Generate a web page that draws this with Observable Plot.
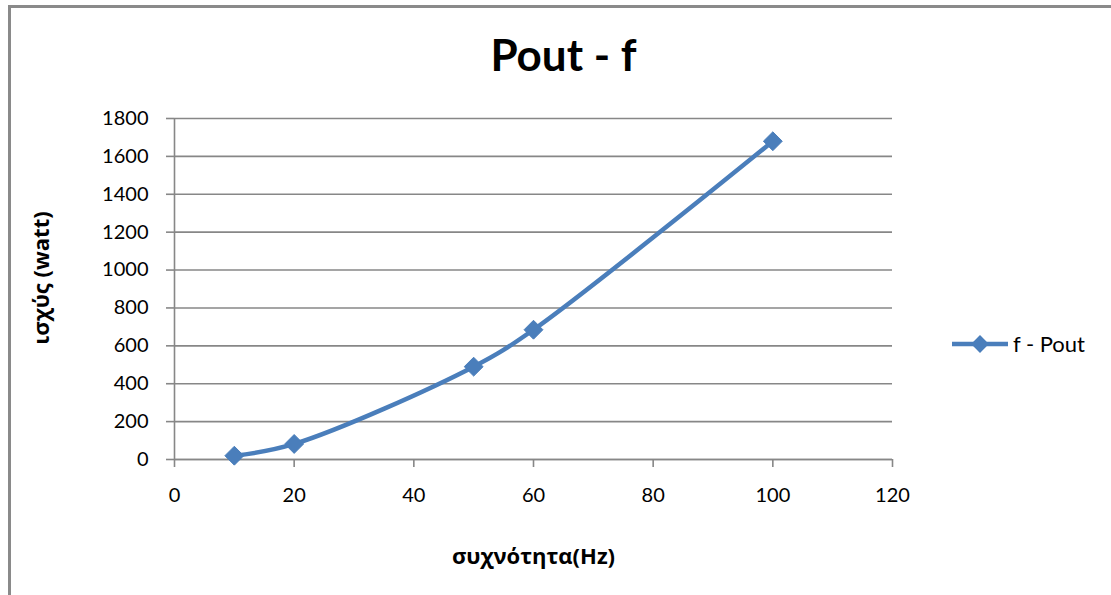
<!DOCTYPE html>
<html>
<head>
<meta charset="utf-8">
<script src="https://cdn.jsdelivr.net/npm/d3@7"></script>
<script src="https://cdn.jsdelivr.net/npm/@observablehq/plot@0.6"></script>
<style>
  body { margin: 0; background: #fff; }
  #wrap { position: relative; width: 1111px; height: 595px; overflow: hidden; font-family: Lato, "Open Sans", sans-serif; }
  #frame { position: absolute; left: 8px; top: 5px; width: 1200px; height: 700px; border: 3px solid #8a8a8a; box-sizing: border-box; }
  #chart { position: absolute; left: 0; top: 0; }
  #legend { position: absolute; left: 951px; top: 330px; display: flex; align-items: center; font-size: 22px; color: #000; }
  #legend svg { margin-right: 4px; }
</style>
</head>
<body>
<div id="wrap">
  <div id="frame"></div>
  <div id="chart"></div>
  <div id="legend"></div>
</div>
<script>
// frequency (Hz) and output power (watt)
const frequency = [10, 20, 50, 60, 100];
const power = [20, 82, 490, 685, 1680];
const seriesName = "f - Pout";
const titleText = "Pout - f";
const xLabel = "συχνότητα(Hz)";
const yLabel = "ισχύς (watt)";
const xTicks = [0, 20, 40, 60, 80, 100, 120];
const yTicks = [0, 200, 400, 600, 800, 1000, 1200, 1400, 1600, 1800];

const blue = "#4a7ebb";
const gray = "#878787";
const greekFont = "'Open Sans', 'Noto Sans', sans-serif";
const data = frequency.map((f, i) => ({f, p: power[i]}));

const chart = Plot.plot({
  width: 1111,
  height: 595,
  marginLeft: 174,
  marginRight: 219,
  marginTop: 118,
  marginBottom: 136,
  style: {fontFamily: "Lato, 'Open Sans', sans-serif", fontSize: "20px", color: "#000", background: "transparent", overflow: "visible"},
  x: {domain: [0, 120], ticks: xTicks},
  y: {domain: [0, 1800], ticks: yTicks},
  marks: [
    Plot.gridY(yTicks, {stroke: gray, strokeOpacity: 1, strokeWidth: 1.6}),
    Plot.ruleX([0], {stroke: gray, strokeWidth: 1.6}),
    Plot.ruleY([0], {stroke: gray, strokeWidth: 1.6}),
    Plot.axisY(yTicks, {tickSize: 8, tickPadding: 18, stroke: gray, strokeWidth: 1.6, label: null, fill: "#000", tickFormat: d => String(d)}),
    Plot.axisX(xTicks, {tickSize: 8, tickPadding: 20, stroke: gray, strokeWidth: 1.6, label: null, fill: "#000", tickFormat: d => String(d)}),
    Plot.line(data, {x: "f", y: "p", stroke: blue, strokeWidth: 4.5, curve: "catmull-rom"}),
    Plot.dot(data, {x: "f", y: "p", symbol: "diamond2", r: 8.5, fill: blue, stroke: blue, strokeWidth: 1}),
    Plot.text([titleText], {frameAnchor: "top", dx: 30, dy: -79, fontSize: 44, fontWeight: "bold"}),
    Plot.text([xLabel], {frameAnchor: "bottom", dy: 104, fontSize: 22, fontWeight: "bold", fontFamily: greekFont}),
    Plot.text([yLabel], {frameAnchor: "left", textAnchor: "middle", lineAnchor: "middle", dx: -133, dy: -11, rotate: -90, fontSize: 22, fontWeight: "bold", fontFamily: greekFont})
  ]
});
document.getElementById("chart").appendChild(chart);

// legend entry: line with diamond marker and series name
const legend = d3.select("#legend");
const sw = legend.append("svg").attr("width", 58).attr("height", 24);
sw.append("line").attr("x1", 1).attr("x2", 57).attr("y1", 12).attr("y2", 12)
  .attr("stroke", blue).attr("stroke-width", 4.5);
sw.append("path").attr("transform", "translate(29,12)")
  .attr("d", d3.symbol(d3.symbolDiamond2, Math.PI * 8 * 8)()).attr("fill", blue);
legend.append("span").text(seriesName);
</script>
</body>
</html>
